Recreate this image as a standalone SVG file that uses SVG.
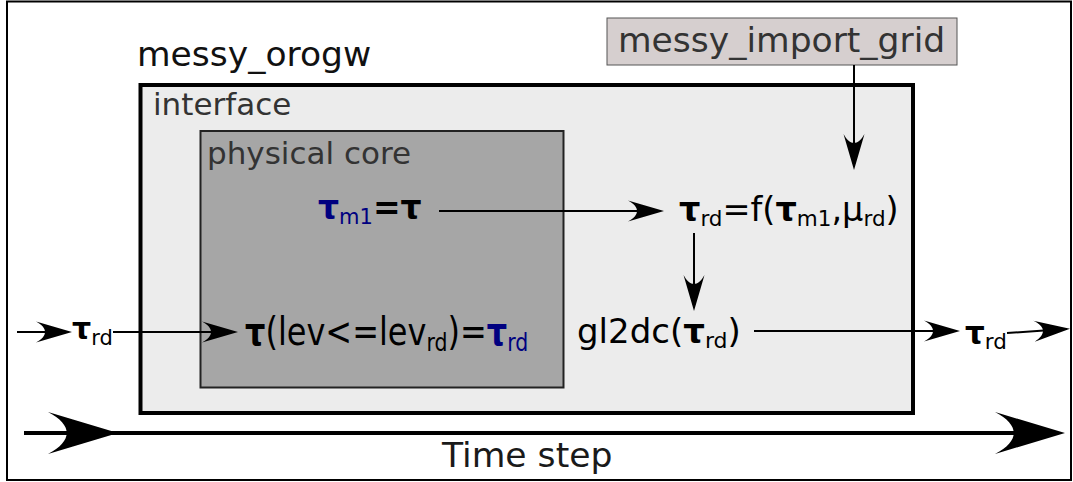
<svg xmlns="http://www.w3.org/2000/svg" width="1073" height="482" viewBox="0 0 1073 482">
<style>
text{font-family:"DejaVu Sans","Liberation Sans",sans-serif;}
.lbl{fill:#333;}
.f{fill:#000;}
.b{font-weight:bold;}
.bl{fill:#000080;}
.con{fill:none;stroke:#000;stroke-width:2;}
.big{fill:none;stroke:#000;stroke-width:4;}
</style>
<defs>
<marker id="ah" markerUnits="userSpaceOnUse" markerWidth="40" markerHeight="24" refX="10" refY="12" orient="auto" overflow="visible">
<path d="M36,12 L0,1.5 C12,8 12,16 0,22.5 Z" fill="#000"/>
</marker>
<marker id="bigah" markerUnits="userSpaceOnUse" markerWidth="72" markerHeight="44" refX="19" refY="22" orient="auto" overflow="visible">
<path d="M70,22 L0,1 C25,14 25,30 0,43 Z" fill="#000"/>
</marker>
</defs>
<rect x="7" y="1.5" width="1064" height="478.5" fill="#fff" stroke="#000" stroke-width="2"/>
<g id="messy_orogw">
<text x="137" y="66" font-size="34.5" fill="#111">messy_orogw</text>
</g>
<g id="interface">
<rect x="140.5" y="85" width="772.5" height="328" fill="#ececec" stroke="#000" stroke-width="4"/>
<text class="lbl" x="153" y="115" font-size="31">interface</text>
</g>
<g id="physical_core">
<rect x="200.5" y="131" width="363" height="256.5" fill="#a6a6a6" stroke="#222" stroke-width="2"/>
<text class="lbl" x="207" y="164" font-size="31">physical core</text>
</g>
<g id="messy_import_grid">
<rect x="607" y="18" width="350" height="47" fill="#d6cfcf" stroke="#555" stroke-width="1"/>
<text class="lbl" x="618" y="52" font-size="34.5">messy_import_grid</text>
</g>
<g id="tau_m1">
<text x="318" y="219" font-size="33"><tspan class="b bl">τ</tspan><tspan class="bl" font-size="21" dy="5">m1</tspan><tspan class="b f" dy="-5">=τ</tspan></text>
</g>
<g id="tau_rd_f">
<text class="f" x="679" y="221" font-size="33.5"><tspan class="b">τ</tspan><tspan font-size="21.5" dy="5">rd</tspan><tspan dy="-5">=f(</tspan><tspan class="b">τ</tspan><tspan font-size="21.5" dy="5">m1</tspan><tspan dy="-5">,μ</tspan><tspan font-size="21.5" dy="5">rd</tspan><tspan dy="-5">)</tspan></text>
</g>
<g id="gl2dc">
<text class="f" x="577" y="343" font-size="34">gl2dc(<tspan class="b">τ</tspan><tspan font-size="22" dy="5">rd</tspan><tspan dy="-5">)</tspan></text>
</g>
<g id="tau_lev">
<text class="f" transform="translate(245,345) scale(0.82,1)" x="0" y="0" font-size="39"><tspan class="b">τ</tspan>(lev&lt;=lev<tspan font-size="25" dy="6">rd</tspan><tspan dy="-6">)=</tspan><tspan class="b bl">τ</tspan><tspan class="bl" font-size="25" dy="6">rd</tspan></text>
</g>
<g id="tau_rd_in">
<text class="f" x="72" y="339" font-size="30"><tspan class="b">τ</tspan><tspan font-size="21" dy="6">rd</tspan></text>
</g>
<g id="tau_rd_out">
<text class="f" x="965" y="344" font-size="31"><tspan class="b">τ</tspan><tspan font-size="21.5" dy="5">rd</tspan></text>
</g>
<g id="time_step">
<text x="442" y="467" font-size="34.6" fill="#1a1a1a">Time step</text>
</g>
<g id="connectors">
<path class="con" d="M17,332 H46" marker-end="url(#ah)"/>
<path class="con" d="M113,332 H212" marker-end="url(#ah)"/>
<path class="con" d="M439,211 H638" marker-end="url(#ah)"/>
<path class="con" d="M694,233 V285" marker-end="url(#ah)"/>
<path class="con" d="M854,65 V144" marker-end="url(#ah)"/>
<path class="con" d="M754,331 H934" marker-end="url(#ah)"/>
<path class="con" d="M1007,333 L1044,330.5" marker-end="url(#ah)"/>
<path class="big" d="M24,433 H67" marker-end="url(#bigah)"/>
<path class="big" d="M67,433 H1014" marker-end="url(#bigah)"/>
</g>
</svg>
